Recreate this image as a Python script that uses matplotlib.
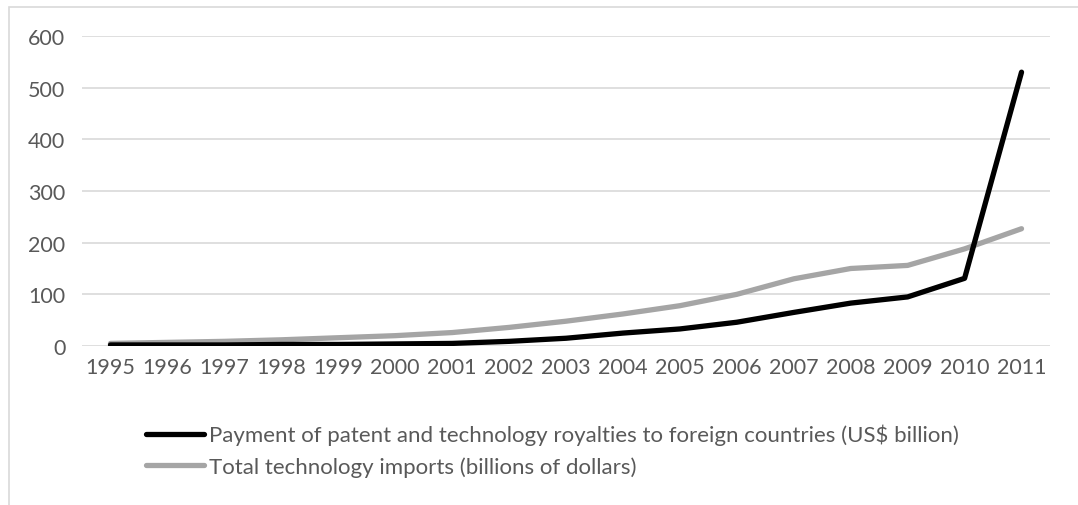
import matplotlib.pyplot as plt
from matplotlib.patches import Rectangle

# Yearly series (US$ billion)
years = [str(y) for y in range(1995, 2012)]
royalties = [2, 2, 2, 3, 3, 4, 5, 9, 15, 25, 33, 46, 65, 83, 95, 131, 530]
tech_imports = [5, 7, 9, 12, 16, 20, 26, 36, 48, 62, 78, 100, 130, 150, 156, 188, 227]
yticks = [0, 100, 200, 300, 400, 500, 600]

plt.rcParams['font.family'] = ['Lato', 'DejaVu Sans']
text_color = '#595959'

fig = plt.figure(figsize=(10.78, 5.06), dpi=100)
ax = fig.add_axes([82 / 1078, 159 / 506, (1050 - 82) / 1078, (347 - 37) / 506])

x = range(len(years))
ax.plot(x, royalties, color='black', lw=3.8, solid_capstyle='round', solid_joinstyle='round', zorder=3,
        label='Payment of patent and technology royalties to foreign countries (US$ billion)')
ax.plot(x, tech_imports, color='#a5a5a5', lw=3.8, solid_capstyle='round', solid_joinstyle='round', zorder=2,
        label='Total technology imports (billions of dollars)')

ax.set_xlim(-0.5, len(years) - 0.5)
ax.set_ylim(0, 600)
ax.set_xticks(list(x))
ax.set_xticklabels(years)
ax.set_yticks(yticks)
ax.grid(axis='y', color='#d9d9d9', lw=1.2)
ax.set_axisbelow(True)
for s in ax.spines.values():
    s.set_visible(False)
ax.tick_params(length=0, labelsize=15.5, colors=text_color, pad=8)
ax.tick_params(axis='y', pad=12)

fig.legend(loc='upper left', bbox_to_anchor=(146 / 1078, 1 - 425 / 506), frameon=False,
           fontsize=16, labelcolor=text_color, handlelength=2.6, handletextpad=0.25,
           labelspacing=0.5, borderpad=0, borderaxespad=0)

# light outer frame
fig.patches.append(Rectangle((9 / 1078, -0.05), 1.1, 1 - 8 / 506 + 0.05, transform=fig.transFigure,
                             fill=False, edgecolor='#d9d9d9', lw=1.2))

fig.savefig('out.png', dpi=100)
